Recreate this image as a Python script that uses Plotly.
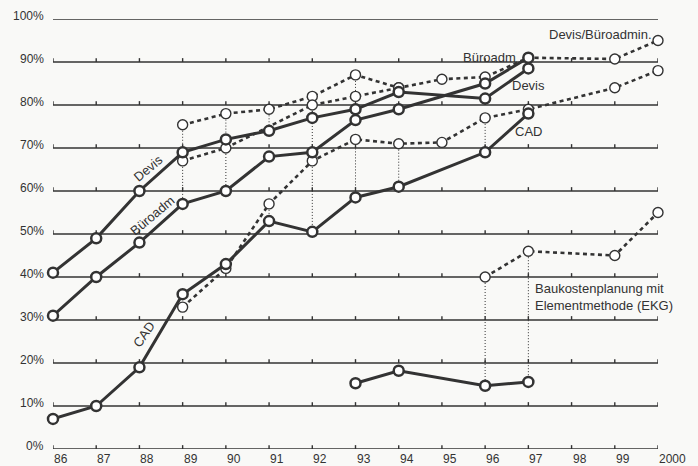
import plotly.graph_objects as go

# ---------------- data ----------------
year_pos = list(range(86, 101))
year_labels = ["86", "87", "88", "89", "90", "91", "92", "93", "94", "95",
               "96", "97", "98", "99", "2000"]
pct_levels = list(range(0, 101, 10))
pct_labels = [f"{v}%" for v in pct_levels]

# actual values (solid lines)
years_actual = [86, 87, 88, 89, 90, 91, 92, 93, 94, 96, 97]
devis = [41, 49, 60, 69, 72, 74, 77, 79, 83, 81.5, 88.5]
bueroadm = [31, 40, 48, 57, 60, 68, 69, 76.5, 79, 85, 91]
cad = [7, 10, 19, 36, 43, 53, 50.5, 58.5, 61, 69, 78]
ekg_years = [93, 94, 96, 97]
ekg = [15.3, 18.2, 14.7, 15.6]

# forecasts (dotted lines)
devis_fc_years = [89, 90, 91, 92, 93, 94, 95, 96, 97, 99, 100]
devis_fc = [75.4, 78, 79, 82, 87, 84, 86, 86.5, 91, 90.7, 95]
buero_fc_years = [89, 90, 92, 93, 94]
buero_fc = [67, 70, 80, 82, 84]
cad_fc_years = [89, 90, 91, 92, 93, 94, 95, 96, 97, 99, 100]
cad_fc = [33, 42, 57, 67, 72, 71, 71.3, 77, 79, 84, 88]
ekg_fc_years = [96, 97, 99, 100]
ekg_fc = [40, 46, 45, 55]

# years where forecast is linked to actual by a thin dotted line
devis_link_years = [89, 90, 91, 92, 93]
buero_link_years = [89, 90, 92, 93]
cad_link_years = [91, 92, 93, 94, 96]
ekg_link_years = [96, 97]

# ---------------- styling ----------------
INK = "#333333"
FONT = "Liberation Sans, Arial, Helvetica, sans-serif"
BG = "#f9f9f7"
TICK_H = 0.9

fig = go.Figure()

# grid lines with upward ticks
gx, gy = [], []
for lv in pct_levels:
    gx += [year_pos[0], year_pos[-1], None]
    gy += [lv, lv, None]
    for yr in year_pos:
        gx += [yr, yr, None]
        gy += [lv, lv + TICK_H, None]
fig.add_trace(go.Scatter(x=gx, y=gy, mode="lines", line=dict(color=INK, width=1.4),
                         hoverinfo="skip", showlegend=False, cliponaxis=False))

# thin dotted connectors
def links(fc_years, fc_vals, a_years, a_vals, sel):
    lx, ly = [], []
    for yr in sel:
        f = fc_vals[fc_years.index(yr)]
        a = a_vals[a_years.index(yr)]
        lx += [yr, yr, None]
        ly += [f, a, None]
    return lx, ly

cx, cy = [], []
for args in [(devis_fc_years, devis_fc, years_actual, devis, devis_link_years),
             (buero_fc_years, buero_fc, years_actual, bueroadm, buero_link_years),
             (cad_fc_years, cad_fc, years_actual, cad, cad_link_years),
             (ekg_fc_years, ekg_fc, ekg_years, ekg, ekg_link_years)]:
    lx, ly = links(*args)
    cx += lx
    cy += ly
fig.add_trace(go.Scatter(x=cx, y=cy, mode="lines",
                         line=dict(color=INK, width=1, dash="1px,2px"),
                         hoverinfo="skip", showlegend=False, cliponaxis=False))

# forecast dotted lines
for xs, ys in [(devis_fc_years, devis_fc), (buero_fc_years, buero_fc),
               (cad_fc_years, cad_fc), (ekg_fc_years, ekg_fc)]:
    fig.add_trace(go.Scatter(
        x=xs, y=ys, mode="lines+markers",
        line=dict(color=INK, width=2.6, dash="4px,3.5px"),
        marker=dict(size=10, color="white", line=dict(color=INK, width=1.4)),
        showlegend=False, cliponaxis=False))

# actual solid lines
for xs, ys in [(years_actual, cad), (years_actual, bueroadm),
               (years_actual, devis), (ekg_years, ekg)]:
    fig.add_trace(go.Scatter(
        x=xs, y=ys, mode="lines+markers",
        line=dict(color=INK, width=3),
        marker=dict(size=10, color="white", line=dict(color=INK, width=2.5)),
        showlegend=False, cliponaxis=False))

annotations = []
# x tick labels (left aligned at tick)
for yr, lab in zip(year_pos, year_labels):
    annotations.append(dict(x=yr, y=0, xref="x", yref="paper", text=lab,
                            xanchor="left", yanchor="top", yshift=-1, xshift=-1,
                            showarrow=False, font=dict(size=12, color=INK, family=FONT)))
# y tick labels (slightly above the grid line)
for lv, lab in zip(pct_levels, pct_labels):
    annotations.append(dict(x=0, y=lv, xref="paper", yref="y", text=lab,
                            xanchor="right", yanchor="middle", xshift=-7, yshift=3,
                            showarrow=False, font=dict(size=12, color=INK, family=FONT)))

def note(x, y, text, angle=0, xanchor="center", align="center", size=13):
    annotations.append(dict(x=x, y=y, xref="x", yref="y", text=text, textangle=angle,
                            xanchor=xanchor, yanchor="middle", align=align,
                            showarrow=False, font=dict(size=size, color=INK, family=FONT)))

note(88.2, 65.2, "Devis", angle=-40)
note(88.3, 54.3, "Büroadm", angle=-40)
note(88.1, 26.7, "CAD", angle=-56)
note(96.1, 91.1, "Büroadm")
note(97.0, 84.6, "Devis")
note(97.0, 73.8, "CAD")
note(99.9, 96.3, "Devis/Büroadmin.", xanchor="right")
note(100.1, 84.8, "CAD", xanchor="right")
note(97.1, 35.4, "Baukostenplanung mit<br>Elementmethode (EKG)", xanchor="left", align="left")

fig.update_layout(
    width=698, height=466,
    margin=dict(l=53, r=40, t=19, b=17),
    paper_bgcolor=BG, plot_bgcolor=BG,
    font=dict(family=FONT, size=12, color=INK),
    annotations=annotations,
    xaxis=dict(range=[86, 100], showgrid=False, zeroline=False, showticklabels=False,
               ticks="", showline=False, automargin=False, fixedrange=True),
    yaxis=dict(range=[0, 100], showgrid=False, zeroline=False, showticklabels=False,
               ticks="", showline=False, automargin=False, fixedrange=True),
)

fig.write_html("out.html", config={"displayModeBar": False},
               post_script="document.body.style.margin='0';document.body.style.overflow='hidden';")
